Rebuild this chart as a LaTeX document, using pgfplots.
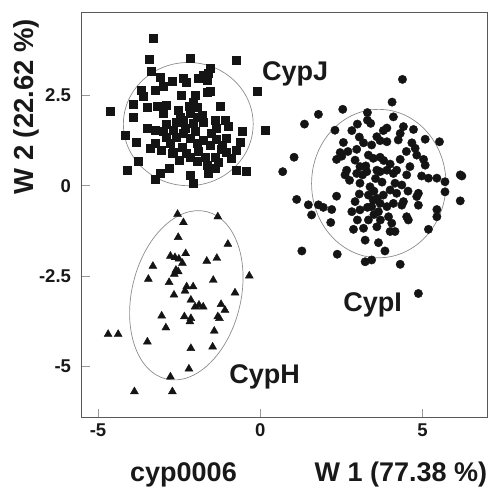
\documentclass[border=0pt]{standalone}
\usepackage{fontspec}
\setmainfont{Liberation Sans}
\usepackage{pgfplots}
\pgfplotsset{compat=1.18}

\begin{document}
\begin{tikzpicture}
\useasboundingbox (0,0) rectangle (490pt,488pt);
\begin{axis}[
    at={(81.5pt,70.5pt)}, anchor=south west,
    scale only axis, width=406pt, height=404.8pt,
    xmin=-5.51, xmax=7.0, ymin=-6.43, ymax=4.80,
    axis line style={black!65, line width=1.2pt},
    xtick={-5,0,5}, xticklabels={-5,0,5},
    ytick={-5,-2.5,0,2.5}, yticklabels={-5,-2.5,0,2.5},
    xtick pos=lower, ytick pos=left,
    tick align=inside, major tick length=8.5pt,
    tick style={black!40, line width=0.6pt},
    tick label style={font=\bfseries\fontsize{18.5}{20}\selectfont, text=black!90},
    yticklabel style={xshift=-7pt},
    xticklabel style={yshift=-2.5pt},
]
% CypJ
\addplot[only marks, mark=square*, mark size=4pt, black!92] coordinates {
(-3.30,4.09) (-3.42,3.51) (-2.17,3.53) (-0.73,3.49) (-3.35,3.19) (-3.07,3.01)
(-2.73,2.91) (-2.37,2.98) (-2.27,2.86) (-1.91,2.98) (-1.76,3.07) (-1.55,3.26)
(-1.65,2.93) (-1.60,3.12) (-3.66,2.64) (-3.25,2.65) (-2.99,2.75) (-3.61,2.47)
(-0.11,2.63) (-1.55,2.63) (-4.63,2.07) (-3.91,2.27) (-3.50,2.19) (-3.19,2.21)
(-2.89,2.24) (-2.01,2.52) (-2.06,2.33) (-1.96,2.19) (-2.17,2.01) (-2.53,2.10)
(-2.48,1.91) (-2.37,1.82) (-3.91,1.90) (-1.24,2.21) (-1.96,1.91) (-2.06,1.73)
(-1.76,1.75) (-1.40,1.82) (-1.09,1.82) (-0.99,1.64) (-1.35,1.59) (-3.50,1.59)
(-3.25,1.55) (-2.99,1.50) (-2.68,1.55) (-2.89,1.36) (-2.58,1.36) (-2.37,1.45)
(-2.17,1.31) (-1.76,1.27) (-1.35,1.29) (-1.04,1.31) (-0.57,1.50) (-0.63,1.22)
(0.14,1.55) (-4.17,1.41) (-3.81,1.22) (-3.25,1.18) (-2.78,1.18) (-2.42,1.08)
(-3.40,1.04) (-3.04,0.99) (-2.68,0.94) (-2.27,0.90) (-1.96,1.18) (-1.55,1.13)
(-1.19,1.13) (-0.73,0.99) (-3.76,0.69) (-4.09,0.42) (-3.09,0.34) (-3.25,0.18)
(-2.17,0.79) (-1.96,0.67) (-1.65,0.57) (-1.40,0.80) (-1.40,0.48) (-1.60,0.34)
(-2.17,0.30) (-2.06,0.08) (-0.73,0.42) (-0.42,0.39) (-1.04,0.94) (-2.73,0.90)
(-2.60,1.75) (-2.30,1.60) (-2.00,1.50) (-1.80,1.95) (-2.20,2.20) (-1.50,1.45)
(-1.20,1.00) (-2.90,1.70) (-3.00,2.00) (-1.65,2.60) (-2.45,2.50) (-1.90,0.95)
(-1.70,0.80) (-2.50,0.70) (-1.30,0.65) (-2.80,0.50) (-0.90,0.75)
};
% CypI
\addplot[only marks, mark=*, mark size=4.2pt, black!92] coordinates {
(4.38,2.95) (4.06,2.32) (1.79,1.98) (2.54,2.12) (3.30,2.03) (1.36,1.71)
(2.30,1.54) (2.82,1.53) (2.99,1.71) (3.30,1.82) (3.40,1.73) (4.10,1.91)
(3.79,1.53) (3.59,1.36) (4.41,1.64) (4.72,1.56) (4.31,1.45) (4.25,1.27)
(5.08,1.29) (5.52,1.22) (2.56,1.20) (3.18,1.19) (3.43,1.13) (3.69,1.25)
(3.90,1.22) (4.67,1.19) (4.77,1.04) (1.04,0.79) (0.69,0.39) (2.46,0.92)
(2.97,1.01) (2.35,0.73) (2.51,0.82) (2.92,0.71) (3.33,0.85) (3.48,0.76)
(3.69,0.79) (4.00,0.60) (4.31,0.73) (4.82,0.85) (5.03,0.73) (5.08,0.57)
(2.66,0.43) (3.07,0.53) (3.59,0.43) (3.90,0.43) (4.20,0.43) (4.61,0.53)
(6.16,0.30) (2.61,0.30) (2.97,0.34) (3.28,0.39) (3.69,0.39) (4.10,0.34)
(4.51,0.30) (4.97,0.27) (5.18,0.21) (5.44,0.21) (5.69,0.11) (6.21,0.27)
(5.69,-0.17) (3.07,0.07) (3.38,-0.03) (4.15,0.07) (4.36,0.02) (1.12,-0.38)
(1.48,-0.53) (1.79,-0.53) (1.94,-0.60) (2.20,-0.66) (1.58,-0.81) (2.35,-0.29)
(3.05,-0.23) (2.92,-0.44) (3.33,-0.26) (3.48,-0.40) (3.79,-0.26) (4.00,-0.12)
(4.20,-0.21) (3.43,-0.58) (3.69,-0.49) (3.90,-0.58) (3.64,-0.72) (4.10,-0.49)
(4.41,-0.44) (4.36,-0.54) (4.87,-0.21) (4.87,-0.54) (4.82,-0.30) (6.16,-0.42)
(5.44,-0.66) (5.44,-0.86) (2.82,-0.72) (3.07,-0.67) (2.99,-0.95) (3.33,-0.95)
(3.59,-1.14) (3.95,-0.86) (4.05,-1.04) (4.00,-1.27) (4.15,-1.27) (4.51,-0.86)
(4.56,-0.95) (2.87,-1.21) (3.18,-1.18) (5.18,-1.21) (3.23,-1.51) (3.64,-1.58)
(2.17,-1.02) (1.28,-1.81) (2.37,-1.90) (3.84,-1.81) (3.23,-2.11) (3.43,-2.06)
(4.31,-2.18) (4.87,-2.99)
(3.55,0.20) (3.75,0.10) (3.50,-0.15) (3.60,-0.35) (3.25,0.55) (3.80,0.70)
(3.30,-0.60) (3.50,-0.80) (3.70,-0.95) (3.15,0.30) (2.75,0.15) (2.70,0.95)
(3.90,1.60) (3.05,1.35) (4.50,0.95) (4.55,-0.15)
};
% CypH
\addplot[only marks, mark=triangle*, mark size=4.6pt, black!92] coordinates {
(-2.55,-0.79) (-1.31,-0.86) (-2.37,-1.02) (-2.53,-1.43) (-1.00,-1.62)
(-2.77,-1.95) (-2.63,-1.99) (-2.30,-1.88) (-2.51,-2.03) (-2.40,-2.15)
(-1.65,-2.09) (-1.34,-2.01) (-3.31,-2.23) (-2.60,-2.34) (-2.65,-2.45)
(-2.53,-2.38) (-3.45,-2.59) (-2.81,-2.68) (-1.45,-2.62) (-0.34,-2.50)
(-2.27,-2.80) (-2.07,-2.80) (-2.32,-2.92) (-2.66,-3.03) (-0.78,-2.97)
(-2.14,-3.17) (-2.01,-3.36) (-1.89,-3.31) (-1.76,-3.36) (-1.21,-3.29)
(-1.09,-3.45) (-3.04,-3.61) (-2.34,-3.63) (-2.14,-3.68) (-2.17,-3.77)
(-1.31,-3.63) (-1.26,-3.68) (-2.91,-3.94) (-1.42,-4.03) (-4.69,-4.12)
(-4.38,-4.12) (-3.48,-4.33) (-2.14,-4.51) (-1.47,-4.47) (-2.20,-5.08)
(-2.77,-5.30) (-3.88,-5.71) (-2.71,-5.71)
};
\draw[black!45, line width=0.7pt] (axis cs:-2.22,1.71) ellipse [x radius=64.9pt, y radius=61.6pt];
\draw[black!45, line width=0.7pt] (axis cs:3.65,0.06) ellipse [x radius=67.2pt, y radius=74.2pt];
\draw[black!45, line width=0.7pt] (axis cs:-2.28,-3.04) ellipse [x radius=54.5pt, y radius=86.1pt, rotate=-13.6];
\node[anchor=base west, inner sep=0, font=\bfseries\fontsize{27}{30}\selectfont, text=black!90] at (axis cs:0.05,2.93) {CypJ};
\node[anchor=base west, inner sep=0, font=\bfseries\fontsize{27}{30}\selectfont, text=black!90] at (axis cs:2.55,-3.50) {CypI};
\node[anchor=base west, inner sep=0, font=\bfseries\fontsize{27}{30}\selectfont, text=black!90] at (axis cs:-0.96,-5.48) {CypH};
\end{axis}
\node[anchor=base east, inner sep=0, font=\bfseries\fontsize{27}{30}\selectfont, text=black!90] at (487.3pt,6.3pt) {W 1 (77.38 \%)};
\node[anchor=base west, inner sep=0, font=\bfseries\fontsize{27}{30}\selectfont, text=black!90] at (130pt,6.3pt) {cyp0006};
\node[anchor=base, rotate=90, inner sep=0, font=\bfseries\fontsize{27.5}{30}\selectfont, text=black!90] at (33.3pt,381.3pt) {W 2 (22.62 \%)};
\end{tikzpicture}
\end{document}
